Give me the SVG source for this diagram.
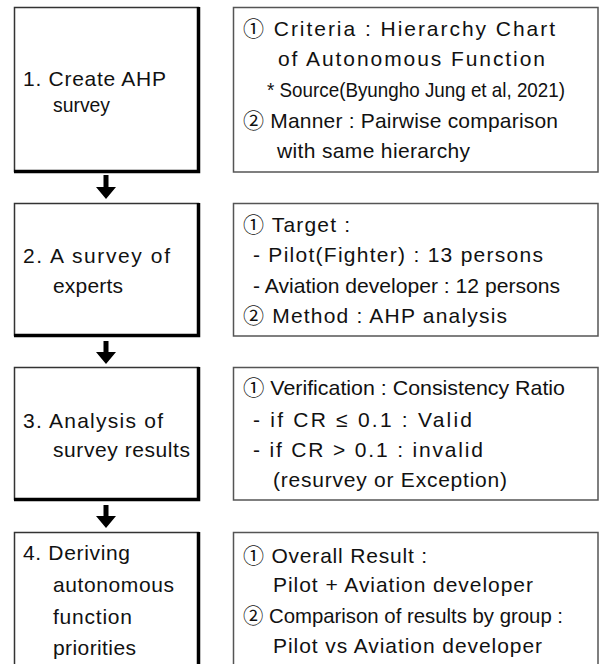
<svg xmlns="http://www.w3.org/2000/svg" width="600" height="664" viewBox="0 0 600 664">
<style>
.bg{fill:#fff}
.lb{fill:#fff;stroke:#333;stroke-width:1.5}
.lbt{fill:none;stroke:#000;stroke-width:3.5}
.rb{fill:#fff;stroke:#555;stroke-width:1.5}
text{font-family:"Liberation Sans","Noto Sans CJK KR","DejaVu Sans",sans-serif;font-size:21px;fill:#111}
.arr{fill:#000}
</style>
<rect class="bg" x="0" y="0" width="600" height="664"/>
<g id="step1">
<rect class="lb" x="14.5" y="7.5" width="184" height="164"/>
<polyline class="lbt" points="198.5,7 198.5,171.5 14,171.5"/>
<text x="23" y="86" textLength="143" lengthAdjust="spacing">1. Create AHP</text>
<text x="53" y="112" textLength="57" lengthAdjust="spacingAndGlyphs">survey</text>
</g>
<g id="detail1">
<rect class="rb" x="233.5" y="7.5" width="364.5" height="164.5"/>
<text x="243" y="36" textLength="312" lengthAdjust="spacing">① Criteria : Hierarchy Chart</text>
<text x="278" y="66" textLength="267" lengthAdjust="spacing">of Autonomous Function</text>
<text x="267" y="97" textLength="298" lengthAdjust="spacingAndGlyphs">* Source(Byungho Jung et al, 2021)</text>
<text x="243" y="128" textLength="315" lengthAdjust="spacing">② Manner : Pairwise comparison</text>
<text x="277" y="158" textLength="193" lengthAdjust="spacing">with same hierarchy</text>
</g>
<g id="step2">
<rect class="lb" x="14.5" y="203.5" width="184" height="132"/>
<polyline class="lbt" points="198.5,203 198.5,335.5 14,335.5"/>
<text x="23" y="263" textLength="147" lengthAdjust="spacing">2. A survey of</text>
<text x="53" y="293" textLength="70" lengthAdjust="spacing">experts</text>
</g>
<g id="detail2">
<rect class="rb" x="233.5" y="203.5" width="364.5" height="132.5"/>
<text x="243" y="232" textLength="107" lengthAdjust="spacing">① Target :</text>
<text x="253" y="262" textLength="290" lengthAdjust="spacing">- Pilot(Fighter) : 13 persons</text>
<text x="253" y="293" textLength="307" lengthAdjust="spacingAndGlyphs">- Aviation developer : 12 persons</text>
<text x="243" y="323" textLength="264" lengthAdjust="spacing">② Method : AHP analysis</text>
</g>
<g id="step3">
<rect class="lb" x="14.5" y="367.5" width="184" height="132"/>
<polyline class="lbt" points="198.5,367 198.5,499.5 14,499.5"/>
<text x="23" y="428" textLength="140" lengthAdjust="spacing">3. Analysis of</text>
<text x="53" y="457" textLength="137" lengthAdjust="spacing">survey results</text>
</g>
<g id="detail3">
<rect class="rb" x="233.5" y="367.5" width="364.5" height="132.5"/>
<text x="243" y="395" textLength="322" lengthAdjust="spacingAndGlyphs">① Verification : Consistency Ratio</text>
<text x="253" y="427" textLength="219" lengthAdjust="spacing">- if CR ≤ 0.1 : Valid</text>
<text x="253" y="457" textLength="230" lengthAdjust="spacing">- if CR &gt; 0.1 : invalid</text>
<text x="273" y="487" textLength="234" lengthAdjust="spacing">(resurvey or Exception)</text>
</g>
<g id="step4">
<rect class="lb" x="14.5" y="532.5" width="184" height="150"/>
<polyline class="lbt" points="198.5,532 198.5,682"/>
<text x="23" y="560" textLength="107" lengthAdjust="spacing">4. Deriving</text>
<text x="53" y="592" textLength="121" lengthAdjust="spacing">autonomous</text>
<text x="53" y="624" textLength="79" lengthAdjust="spacing">function</text>
<text x="53" y="655" textLength="83" lengthAdjust="spacing">priorities</text>
</g>
<g id="detail4">
<rect class="rb" x="233.5" y="532.5" width="364.5" height="150"/>
<text x="243" y="563" textLength="184" lengthAdjust="spacing">① Overall Result :</text>
<text x="273" y="592" textLength="260" lengthAdjust="spacing">Pilot + Aviation developer</text>
<text x="243" y="623" textLength="320" lengthAdjust="spacingAndGlyphs">② Comparison of results by group :</text>
<text x="273" y="653" textLength="269" lengthAdjust="spacing">Pilot vs Aviation developer</text>
</g>
<g id="connectors">
<polygon class="arr" points="103.5,175 108.5,175 108.5,187 116,187 106,199 96,187 103.5,187"/>
<polygon class="arr" points="103.5,341 108.5,341 108.5,352 116,352 106,364 96,352 103.5,352"/>
<polygon class="arr" points="103.5,505 108.5,505 108.5,516 116,516 106,528 96,516 103.5,516"/>
</g>
</svg>
